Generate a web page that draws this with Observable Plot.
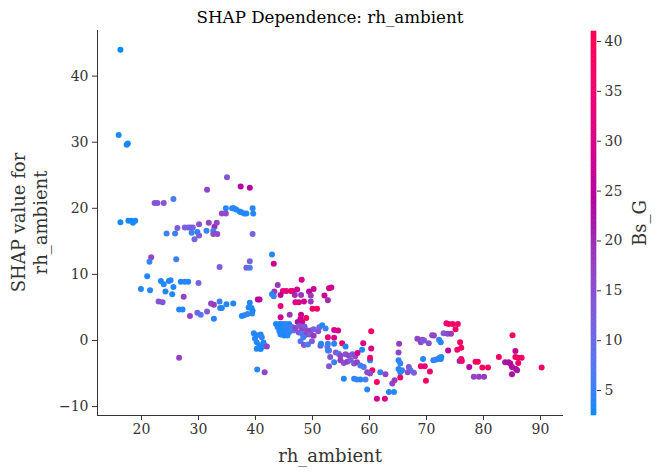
<!DOCTYPE html>
<html><head><meta charset="utf-8">
<script src="https://cdn.jsdelivr.net/npm/d3@7"></script>
<script src="https://cdn.jsdelivr.net/npm/@observablehq/plot@0.6"></script>
<style>
body{margin:0;background:#fff}
#wrap{position:relative;width:659px;height:474px;font-family:"DejaVu Serif",serif;background:#fff}
#wrap svg{position:absolute;top:0}
</style>
</head><body><div id="wrap"></div>
<script>
// Observed points: rh_ambient (x), SHAP value (y), Bs_G (colour)
const rh = [16.3,16.0,17.4,17.6,35.0,31.5,25.6,22.3,22.8,23.9,34.8,34.1,34.8,16.3,17.7,18.2,18.5,18.9,24.4,25.9,26.3,27.6,28.2,28.6,29.0,28.8,29.8,30.1,30.1,29.3,31.4,31.8,32.8,33.2,32.6,32.6,33.3,21.7,21.4,26.1,33.7,21.0,23.4,23.9,24.8,25.1,25.6,26.9,27.6,28.2,30.0,19.9,21.5,24.2,25.4,27.4,23.0,23.7,26.6,27.2,28.5,29.8,30.4,31.5,32.7,32.2,32.7,33.7,33.8,34.1,34.9,26.6,37.4,39.0,35.9,36.2,36.6,37.2,37.5,38.0,38.4,39.5,39.6,39.5,42.9,39.0,43.2,38.4,39.0,48.1,43.9,44.8,45.4,46.2,46.5,44.4,47.3,46.9,48.0,49.4,50.2,49.7,52.1,52.9,52.7,47.0,47.6,48.5,49.7,43.3,42.9,43.2,40.4,40.7,36.1,39.0,38.8,39.3,39.5,39.4,38.6,38.0,37.6,44.4,50.0,50.8,44.4,46.0,48.0,48.9,47.9,48.2,47.4,43.6,44.2,44.7,45.3,45.9,43.9,44.4,45.0,45.6,46.2,46.5,44.2,44.7,45.3,45.9,44.4,45.0,45.6,46.7,47.0,47.7,48.2,48.6,49.1,49.7,50.2,47.6,48.2,48.9,49.5,50.2,48.4,51.0,51.2,52.7,39.7,40.2,40.9,41.1,39.9,40.2,40.7,41.1,41.6,41.4,40.9,40.2,47.9,48.5,49.2,49.9,51.4,52.6,52.9,40.3,41.6,42.0,51.5,52.9,53.3,60.3,68.4,69.3,71.0,72.2,53.8,54.5,53.8,51.7,52.3,52.7,53.8,55.2,55.8,58.9,60.3,58.7,52.7,54.1,54.6,54.9,55.8,56.4,57.0,57.5,57.9,53.1,53.8,54.9,55.5,56.1,56.7,57.3,57.8,58.4,59.0,60.1,60.1,60.5,61.3,61.9,62.8,59.6,60.1,55.5,57.3,57.8,58.4,59.3,59.6,61.3,62.7,63.4,64.3,64.0,64.4,65.4,65.1,65.4,65.1,65.7,65.4,66.9,67.2,66.7,67.8,65.1,65.2,69.0,69.7,70.6,69.9,69.4,71.2,71.6,72.0,72.3,72.6,69.0,69.6,70.4,71.3,73.5,73.9,74.6,75.5,75.1,73.0,73.7,74.3,72.5,75.9,76.1,75.4,73.8,72.5,76.1,75.8,76.2,77.5,78.6,79.0,79.8,80.8,78.3,79.2,80.1,82.7,85.1,85.6,83.8,84.4,84.7,85.6,86.1,86.7,86.1,85.0,85.7,85.9,85.0,90.2];
const shap = [44.0,31.1,29.6,29.8,24.7,22.8,21.4,20.8,20.8,20.8,20.0,19.2,19.2,17.9,18.1,18.1,17.8,18.1,16.2,16.2,17.0,17.1,17.1,17.1,17.1,16.3,16.4,17.6,15.9,15.3,16.6,17.8,17.2,17.8,16.6,16.1,16.1,12.6,11.9,12.3,11.1,9.7,9.0,8.5,9.0,9.1,8.1,8.9,8.9,8.9,8.7,7.8,7.6,7.4,7.0,6.6,5.9,5.8,4.7,4.7,3.7,4.2,3.9,4.4,3.3,5.6,5.4,5.9,4.9,4.9,5.5,-2.6,23.3,23.1,20.0,20.0,19.8,19.5,19.4,19.2,19.2,20.0,19.2,16.1,13.0,12.0,11.6,11.0,11.0,9.2,8.4,7.5,7.5,7.5,7.5,6.9,7.7,6.9,6.9,7.4,7.8,6.8,6.8,7.9,6.1,5.8,5.8,5.9,5.9,7.4,7.0,6.7,6.2,6.2,5.6,5.7,5.0,4.9,4.5,4.1,4.0,3.8,3.7,5.2,4.8,4.8,3.5,3.9,3.9,3.4,3.3,2.8,2.8,2.5,2.5,2.5,2.5,2.5,2.0,1.9,2.0,1.9,2.1,2.0,1.4,1.4,1.5,1.25,0.9,0.75,0.75,1.5,1.9,2.2,1.6,2.1,1.5,1.5,1.7,1.2,1.0,0.9,0.9,0.7,0.5,1.4,2.0,0.5,1.1,0.8,0.9,0.5,0.3,-0.25,-0.75,-1.0,-0.8,-0.3,-1.3,-1.25,-0.1,-0.7,-0.6,-0.1,-0.8,-0.9,-1.5,-4.4,-4.8,-0.9,-0.5,-3.9,8.0,1.4,0.25,0.1,0.8,0.1,1.6,1.5,0.4,2.3,1.8,-0.5,-0.5,-0.4,-0.9,-0.4,-1.2,-1.4,-1.5,-1.8,-2.0,-2.3,-2.1,-2.3,-2.1,-2.4,-1.9,-2.5,-3.3,-3.0,-3.4,-3.2,-3.0,-3.5,-3.3,-3.8,-4.0,-3.0,-2.6,-4.5,-6.3,-4.8,-5.1,-4.8,-5.0,-5.8,-5.8,-5.9,-5.9,-5.9,-7.4,-8.8,-8.8,-7.8,-7.8,-6.5,-6.0,-5.6,-3.0,-3.5,-4.3,-4.5,-4.8,-4.0,-4.5,-4.8,-4.9,-1.8,-0.5,-3.9,-3.9,-4.7,-6.1,-2.8,-3.0,-2.9,-2.8,-2.6,-2.5,-0.25,0.0,-0.4,0.75,2.6,2.5,2.5,2.5,1.7,1.1,1.0,1.0,-0.25,-0.25,-1.1,-1.4,-1.5,-2.8,-2.8,-3.1,-3.1,-4.0,-3.2,-3.2,-4.1,-4.1,-5.5,-5.5,-5.5,-2.5,0.8,-1.6,-3.3,-3.3,-3.5,-2.5,-2.6,-2.6,-3.4,-4.0,-4.3,-4.5,-5.1,-4.1];
const bsg = [2.5,3,3,3,14,17,6,14,14,14,3.5,16,16,3,3,3,3,3,5,5,13,12,12,12,12,5,3.5,15,13,11,5,17,20,17,5,16,16,17,5,5,13,3.5,3.5,3.5,3.5,3.5,3.5,3.5,3.5,3.5,11,3.5,3.5,3.5,3.5,17,14,14,3.5,3.5,17,11,7,13,3.5,17,18,5,3.5,3.5,3.5,17,24,24,3.5,3.5,3.5,3.5,3.5,3.5,3.5,3.5,3.5,12,3.5,12,28,13,6,30,19,35,33,36,34,24,28,20,19,24,28,19,28,30,20,30,31,29,19,19,3.5,5,24,26,3.5,3.5,3.5,3.5,3,3.5,5,3.5,3.5,33,37,37,29,19,28,37,28,30,23,3,3.5,3,5,3.5,3.5,3,3.5,5,3.5,7,3.5,3,3.5,5,3.5,3,3.5,6,17,14,18,13,16,18,12,15,7,17,13,19,5,15,12,33,3.5,3.5,3.5,5,3.5,3.5,3.5,3,3.5,3.5,3,3.5,7,14,6,13,15,7,12,3.5,17,17,3.5,14,29,38,17,17,16,5,29,30,30,3.5,5,5,3.5,37,3.5,30,30,3.5,5,14,7,17,15,17,13,16,30,15,5,18,15,17,12,14,18,5,7,3.5,36,38,38,5,17,17,16,3.5,3.5,5,3.5,6,3.5,30,30,3.5,3.5,17,18,38,3.5,5,3.5,5,3.5,14,7,16,12,17,18,37,33,35,38,3.5,3.5,5,3.5,5,3.5,16,13,15,17,37,35,38,37,38,13,16,18,3.5,38,38,36,26,3.5,38,20,36,25,38,38,38,38,17,18,18,38,38,26,22,22,24,38,37,38,38,24,23,22,23,38];

const xTicks = [20,30,40,50,60,70,80,90];
const yTicks = [-10,0,10,20,30,40];
const cbTicks = [5,10,15,20,25,30,35,40];

// SHAP red_blue colormap (LCh interpolation through L=40)
const cBlue = d3.hcl("#008bfb"), cRed = d3.hcl("#ff0052");
let hB = cBlue.h, hR = cRed.h; if (hR < hB) hR += 360;
const shapRedBlue = t => {
  const l = t < 0.5 ? cBlue.l + (40 - cBlue.l) * t * 2 : 40 + (cRed.l - 40) * (t - 0.5) * 2;
  return d3.hcl(hB + (hR - hB) * t, cBlue.c + (cRed.c - cBlue.c) * t, l).formatHex();
};
const colorOpts = {type: "linear", domain: [2.5, 41], interpolate: shapRedBlue};
const minusFmt = d => d < 0 ? "\u2212" + Math.abs(d) : String(d);

const data = rh.map((x, i) => ({x, y: shap[i], c: bsg[i]}));
const xDom = [12.28, 94.04], yDom = [-11.35, 46.9];

const main = Plot.plot({
  width: 659, height: 474,
  marginLeft: 97, marginRight: 96, marginTop: 30, marginBottom: 59,
  style: {fontFamily: "DejaVu Serif", fontSize: "14px", color: "#333", background: "white"},
  x: {domain: xDom, ticks: xTicks, tickSize: 5, tickPadding: 4, label: null, tickFormat: minusFmt},
  y: {domain: yDom, ticks: yTicks, tickSize: 5, tickPadding: 4, label: null, tickFormat: minusFmt},
  color: colorOpts,
  marks: [
    Plot.ruleX([xDom[0]], {stroke: "#333"}),
    Plot.ruleY([yDom[0]], {stroke: "#333"}),
    Plot.dot(data, {x: "x", y: "y", fill: "c", r: 3, stroke: null})
  ]
});

const step = 0.25;
const cbVals = d3.range(2.5, 41, step);
const cb = Plot.plot({
  width: 74, height: 474,
  marginLeft: 6, marginRight: 63, marginTop: 31, marginBottom: 59,
  style: {fontFamily: "DejaVu Serif", fontSize: "14px", color: "#333", background: "transparent"},
  x: {domain: [0, 1], axis: null},
  y: {domain: [2.5, 41], ticks: cbTicks, tickSize: 4, tickPadding: 4, label: null, axis: "right"},
  color: colorOpts,
  marks: [
    Plot.rect(cbVals, {x1: 0, x2: 1, y1: d => d, y2: d => Math.min(41, d + step), fill: d => d + step / 2, stroke: d => d + step / 2, strokeWidth: 0.6})
  ]
});

const wrap = document.getElementById("wrap");
main.style.left = "0px";
cb.style.left = "585px";
wrap.appendChild(main);
wrap.appendChild(cb);

const s = d3.select(main);
const txt = (x, y, t, size, rot, fill) => s.append("text")
  .attr("transform", `translate(${x},${y})` + (rot ? ` rotate(${rot})` : ""))
  .attr("text-anchor", "middle").attr("font-family", "DejaVu Serif")
  .attr("font-size", size).attr("fill", fill || "#333").text(t);
txt(330, 23, "SHAP Dependence: rh_ambient", 16.7, 0, "#000");
txt(330, 462, "rh_ambient", 18, 0, "#333");
txt(25, 222.5, "SHAP value for", 18, -90, "#333");
txt(47, 222.5, "rh_ambient", 18, -90, "#333");
txt(646, 223, "Bs_G", 18, -90, "#333");
</script></body></html>
